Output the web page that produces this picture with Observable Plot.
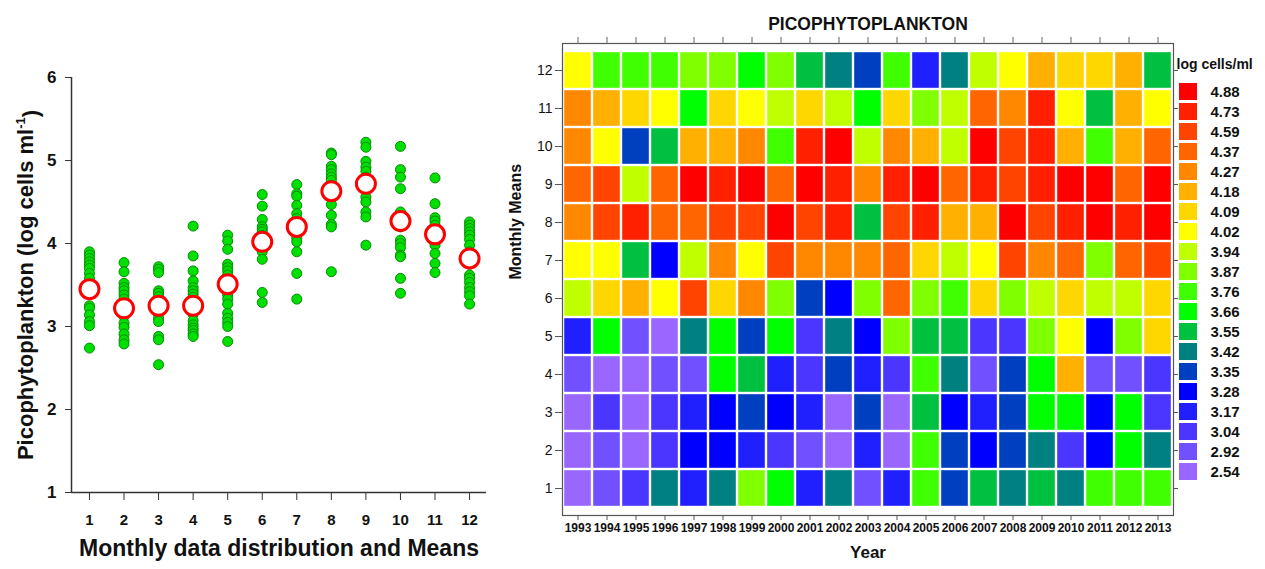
<!DOCTYPE html>
<html>
<head>
<meta charset="utf-8">
<script src="https://cdn.jsdelivr.net/npm/d3@7"></script>
<script src="https://cdn.jsdelivr.net/npm/@observablehq/plot@0.6"></script>
<style>
  html, body { margin: 0; padding: 0; background: #fff; }
  #wrap { position: relative; width: 1265px; height: 569px; overflow: hidden; font-family: "Liberation Sans", Arial, sans-serif; }
  #wrap svg { position: absolute; top: 0; }
</style>
</head>
<body>
<div id="wrap"></div>
<script>
// ---------- Left panel data ----------
const months = [1, 2, 3, 4, 5, 6, 7, 8, 9, 10, 11, 12];
const monthlyMeans = [3.45, 3.22, 3.25, 3.25, 3.51, 4.02, 4.20, 4.63, 4.72, 4.27, 4.11, 3.82];
const obsJan = [3.90, 3.86, 3.82, 3.78, 3.74, 3.70, 3.64, 3.58, 3.50, 3.45, 3.40, 3.25, 3.22, 3.14, 3.06, 3.01, 2.74];
const obsFeb = [3.77, 3.66, 3.52, 3.47, 3.43, 3.38, 3.33, 3.27, 3.22, 3.18, 3.12, 3.04, 2.99, 2.91, 2.84, 2.79];
const obsMar = [3.72, 3.69, 3.65, 3.43, 3.40, 3.36, 3.30, 3.25, 3.20, 3.15, 3.10, 3.06, 2.88, 2.84, 2.54];
const obsApr = [4.21, 3.85, 3.67, 3.55, 3.47, 3.43, 3.39, 3.35, 3.28, 3.22, 3.15, 3.07, 3.02, 2.98, 2.95, 2.91, 2.88];
const obsMay = [4.10, 4.03, 3.93, 3.75, 3.71, 3.67, 3.62, 3.55, 3.45, 3.38, 3.33, 3.27, 3.16, 3.10, 3.05, 3.00, 2.82];
const obsJun = [4.59, 4.45, 4.29, 4.20, 4.17, 4.14, 4.10, 4.05, 3.98, 3.93, 3.90, 3.81, 3.41, 3.29];
const obsJul = [4.71, 4.60, 4.57, 4.46, 4.36, 4.30, 4.25, 4.18, 4.10, 4.06, 4.02, 3.90, 3.64, 3.33];
const obsAug = [5.09, 5.07, 4.93, 4.89, 4.84, 4.80, 4.76, 4.70, 4.62, 4.55, 4.47, 4.34, 4.23, 4.20, 3.66];
const obsSep = [5.22, 5.16, 4.99, 4.92, 4.87, 4.80, 4.72, 4.65, 4.56, 4.50, 4.38, 4.32, 3.98];
const obsOct = [5.17, 4.89, 4.80, 4.66, 4.38, 4.33, 4.28, 4.20, 4.04, 4.00, 3.95, 3.86, 3.84, 3.58, 3.40];
const obsNov = [4.79, 4.48, 4.31, 4.27, 4.22, 4.16, 4.10, 4.03, 3.98, 3.88, 3.76, 3.65];
const obsDec = [4.26, 4.22, 4.18, 4.14, 4.10, 4.05, 3.98, 3.90, 3.82, 3.75, 3.62, 3.58, 3.53, 3.47, 3.42, 3.37, 3.27];
const monthlyObs = [obsJan, obsFeb, obsMar, obsApr, obsMay, obsJun, obsJul, obsAug, obsSep, obsOct, obsNov, obsDec];

// ---------- Heatmap data (values = legend class) ----------
const years = [1993, 1994, 1995, 1996, 1997, 1998, 1999, 2000, 2001, 2002, 2003, 2004, 2005, 2006, 2007, 2008, 2009, 2010, 2011, 2012, 2013];
const heatMonths = [12, 11, 10, 9, 8, 7, 6, 5, 4, 3, 2, 1];
const row12 = [4.02, 3.76, 3.76, 3.76, 3.87, 3.87, 3.66, 3.87, 3.55, 3.42, 3.35, 3.76, 3.17, 3.42, 3.94, 4.02, 4.18, 4.09, 4.09, 4.18, 3.55];
const row11 = [4.27, 4.18, 4.09, 4.02, 3.66, 4.09, 4.02, 3.94, 4.09, 3.94, 3.66, 4.09, 3.87, 3.94, 4.37, 4.27, 4.73, 4.02, 3.55, 4.18, 4.02];
const row10 = [4.27, 4.02, 3.35, 3.55, 4.18, 4.18, 4.27, 3.76, 4.73, 4.88, 3.94, 4.27, 4.18, 3.94, 4.88, 4.59, 4.73, 4.18, 3.76, 4.18, 4.37];
const row9  = [4.37, 4.59, 3.94, 4.37, 4.88, 4.73, 4.88, 4.37, 4.88, 4.73, 4.27, 4.73, 4.88, 4.37, 4.73, 4.59, 4.73, 4.88, 4.88, 4.37, 4.88];
const row8  = [4.27, 4.59, 4.73, 4.37, 4.37, 4.59, 4.59, 4.88, 4.59, 4.73, 3.55, 4.59, 4.73, 4.18, 4.18, 4.88, 4.59, 4.73, 4.88, 4.73, 4.88];
const row7  = [4.02, 4.02, 3.55, 3.28, 3.94, 4.27, 4.02, 4.59, 4.27, 4.27, 4.27, 4.37, 4.09, 3.94, 4.02, 4.59, 4.27, 4.37, 3.87, 4.37, 4.59];
const row6  = [3.94, 4.09, 4.18, 4.02, 4.59, 4.09, 4.27, 3.87, 3.35, 3.28, 3.87, 4.37, 3.87, 3.76, 4.09, 3.87, 3.94, 4.09, 3.94, 3.94, 4.09];
const row5  = [3.17, 3.66, 2.92, 2.54, 3.42, 3.66, 3.35, 3.66, 3.04, 3.42, 3.28, 3.87, 3.55, 3.55, 3.04, 3.04, 3.87, 4.02, 3.28, 3.87, 4.09];
const row4  = [2.92, 2.54, 2.54, 2.92, 2.92, 3.66, 3.55, 3.17, 3.04, 3.35, 3.17, 3.04, 3.76, 3.42, 2.92, 3.35, 3.66, 4.18, 2.92, 2.92, 3.04];
const row3  = [2.54, 3.04, 2.54, 3.04, 3.17, 3.28, 3.35, 3.28, 3.17, 2.54, 3.35, 2.54, 3.55, 3.28, 3.17, 3.35, 3.66, 3.66, 3.28, 3.66, 3.04];
const row2  = [2.54, 2.92, 2.54, 3.04, 3.28, 3.28, 3.17, 3.04, 2.92, 2.54, 3.17, 2.54, 3.76, 3.35, 3.28, 3.35, 3.42, 3.04, 3.28, 3.66, 3.42];
const row1  = [2.54, 2.92, 3.04, 3.42, 3.17, 3.42, 3.87, 3.66, 3.17, 3.42, 2.92, 3.17, 3.76, 3.35, 3.55, 3.42, 3.55, 3.42, 3.76, 3.76, 3.76];
const heatRows = [row12, row11, row10, row9, row8, row7, row6, row5, row4, row3, row2, row1];

// ---------- Legend ----------
const levels = [4.88, 4.73, 4.59, 4.37, 4.27, 4.18, 4.09, 4.02, 3.94, 3.87, 3.76, 3.66, 3.55, 3.42, 3.35, 3.28, 3.17, 3.04, 2.92, 2.54];
const levelColors = ["#ff0000", "#ff2000", "#ff4400", "#ff6600", "#ff8800", "#ffb000", "#ffd700", "#ffff00", "#c0ff00", "#80ff00",
                     "#40ff00", "#00ff00", "#00c040", "#008080", "#0040c0", "#0000ff", "#2020ff", "#4a36ff", "#7050ff", "#9966ff"];

// ---------- Build tables ----------
const obs = monthlyObs.flatMap((vals, i) => vals.map(v => ({month: months[i], value: v})));
const means = months.map((m, i) => ({month: m, value: monthlyMeans[i]}));
const heat = heatRows.flatMap((row, i) => row.map((v, j) => ({year: years[j], month: heatMonths[i], value: v})));

const FONT = "Liberation Sans, Arial, sans-serif";
const wrap = document.getElementById("wrap");

// ---------- Left plot ----------
const left = Plot.plot({
  width: 500, height: 569,
  marginLeft: 71, marginRight: 14, marginTop: 77, marginBottom: 77,
  style: {fontFamily: FONT, background: "transparent", color: "#111", overflow: "visible"},
  x: {type: "linear", domain: [0.48, 12.49]},
  y: {type: "linear", domain: [1, 6]},
  marks: [
    Plot.ruleX([0.48], {stroke: "#333", strokeWidth: 1.5}),
    Plot.ruleY([1], {stroke: "#333", strokeWidth: 1.5}),
    Plot.axisY({ticks: [1, 2, 3, 4, 5, 6], tickFormat: d => String(d), tickSize: 6, tickPadding: 9, fontSize: 17, fontWeight: "bold", stroke: "#333", label: null}),
    Plot.axisX({ticks: months, tickFormat: d => String(d), tickSize: 8, tickPadding: 14, fontSize: 15, fontWeight: "bold", stroke: "#333", label: null}),
    Plot.dot(obs, {x: "month", y: "value", r: 5, fill: "#00e000", stroke: "#078a07", strokeWidth: 1}),
    Plot.dot(means, {x: "month", y: "value", r: 9.5, fill: "white", stroke: "#ff0000", strokeWidth: 3}),
    Plot.text(["Monthly data distribution and Means"], {frameAnchor: "bottom", dy: 63, fontSize: 23, fontWeight: "bold"}),
    Plot.text(["Picophytoplankton (log cells ml-1)"], {frameAnchor: "left", dx: -46, rotate: -90, fontSize: 22, fontWeight: "bold"})
  ]
});
left.style.left = "0px";
d3.select(left).selectAll("text").filter(function () { return this.textContent === "Picophytoplankton (log cells ml-1)"; })
  .each(function () {
    const t = d3.select(this);
    t.text(null);
    t.attr("text-anchor", "middle");
    t.append("tspan").text("Picophytoplankton (log cells ml");
    t.append("tspan").attr("dy", "-0.55em").attr("font-size", "13px").text("-1");
    t.append("tspan").attr("dy", "0.55em").text(")");
  });
wrap.appendChild(left);

// ---------- Heatmap ----------
const right = Plot.plot({
  width: 765, height: 569,
  marginLeft: 62, marginRight: 92, marginTop: 43, marginBottom: 54,
  style: {fontFamily: FONT, background: "transparent", color: "#111", overflow: "visible"},
  x: {type: "band", domain: years, padding: 0},
  y: {type: "band", domain: heatMonths, padding: 0, insetTop: 4, insetBottom: 5},
  color: {type: "ordinal", domain: levels, range: levelColors},
  marks: [
    Plot.cell(heat, {x: "year", y: "month", fill: "value", inset: 1.2}),
    Plot.frame({stroke: "#555", strokeWidth: 1.2}),
    Plot.axisX({anchor: "bottom", tickSize: 5, tickPadding: 3, tickFormat: d => String(d), fontSize: 12, fontWeight: "bold", stroke: "#555", label: null}),
    Plot.axisX({anchor: "top", tickSize: 7, tickFormat: () => "", stroke: "#666", label: null}),
    Plot.axisY({anchor: "left", tickSize: 7, tickPadding: 3, tickFormat: d => String(d), fontSize: 14, stroke: "#555", label: null}),
    Plot.axisY({anchor: "right", tickSize: 4, tickFormat: () => "", stroke: "#555", label: null}),
    Plot.text(["PICOPHYTOPLANKTON"], {frameAnchor: "top", dy: -26, fontSize: 17.5, fontWeight: "bold"}),
    Plot.text(["Year"], {frameAnchor: "bottom", dy: 42, fontSize: 17, fontWeight: "bold"}),
    Plot.text(["Monthly Means"], {frameAnchor: "left", dx: -47, rotate: -90, fontSize: 16, fontWeight: "bold"})
  ]
});
right.style.left = "500px";
wrap.appendChild(right);

// ---------- Legend ----------
const legend = Plot.plot({
  width: 95, height: 569,
  marginLeft: 9, marginRight: 68, marginTop: 76, marginBottom: 82,
  style: {fontFamily: FONT, background: "transparent", color: "#111", overflow: "visible"},
  y: {type: "band", domain: levels, padding: 0.14, axis: null},
  color: {type: "ordinal", domain: levels, range: levelColors},
  marks: [
    Plot.cell(levels, {y: d => d, fill: d => d}),
    Plot.text(levels, {y: d => d, text: d => d.toFixed(2), frameAnchor: "right", dx: 13, textAnchor: "start", fontSize: 15, fontWeight: "bold"}),
    Plot.text(["log cells/ml"], {frameAnchor: "top-left", dx: -3, dy: -12, textAnchor: "start", lineAnchor: "middle", fontSize: 14, fontWeight: "bold"})
  ]
});
legend.style.left = "1170px";
wrap.appendChild(legend);
</script>
</body>
</html>
